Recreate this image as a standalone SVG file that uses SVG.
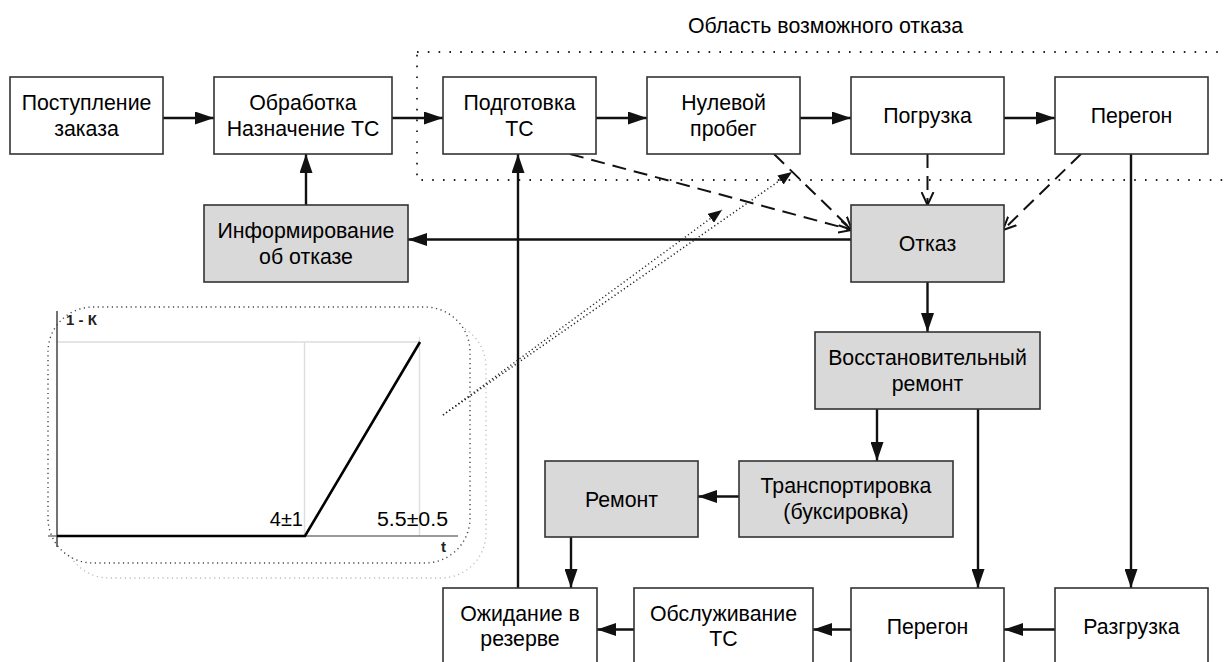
<svg xmlns="http://www.w3.org/2000/svg" width="1224" height="662" viewBox="0 0 1224 662">
<style>
.box{fill:#fff;stroke:#333;stroke-width:1.6}
.gbox{fill:#d9d9d9;stroke:#333;stroke-width:1.6}
.t{font-family:"Liberation Sans",Arial,sans-serif;font-size:21.3px;fill:#000;text-anchor:middle}
.c{stroke:#111;stroke-width:2.4;fill:none}
.d{stroke:#111;stroke-width:2;fill:none;stroke-dasharray:14 8}
.dot{stroke:#222;stroke-width:1.5;fill:none;stroke-dasharray:1.2 2.6}
.area{stroke:#222;stroke-width:1.8;fill:none;stroke-dasharray:1.6 9.2}
.grid{stroke:#ddd;stroke-width:1.4}
.sm{font-family:"Liberation Sans",Arial,sans-serif;font-size:15px;font-weight:bold;fill:#222}
</style>
<defs>
<marker id="a" viewBox="0 0 19 13" refX="19" refY="6.5" markerWidth="19" markerHeight="13" markerUnits="userSpaceOnUse" orient="auto"><path d="M0,0L19,6.5L0,13Z" fill="#111"/></marker>
<marker id="o" viewBox="0 0 14 14" refX="13" refY="7" markerWidth="14" markerHeight="14" markerUnits="userSpaceOnUse" orient="auto"><path d="M0,1L13,7L0,13" fill="none" stroke="#111" stroke-width="2"/></marker>
<marker id="s" viewBox="0 0 14 11" refX="14" refY="5.5" markerWidth="14" markerHeight="11" markerUnits="userSpaceOnUse" orient="auto"><path d="M0,0L14,5.5L0,11Z" fill="#111"/></marker>
</defs>

<text class="t" x="825.5" y="33" font-size="21.8">Область возможного отказа</text>
<rect class="area" x="417" y="52" width="830" height="128"/>

<g id="chart">
<rect x="64" y="322" width="422" height="256" rx="45" fill="none" stroke="#bbb" stroke-width="1.3" stroke-dasharray="1.2 3.5"/>
<rect x="48" y="307" width="422" height="256" rx="45" fill="#fff" stroke="#444" stroke-width="1.4" stroke-dasharray="1.2 3.5"/>
<line class="grid" x1="57" y1="342" x2="420" y2="342"/>
<line class="grid" x1="304.5" y1="342" x2="304.5" y2="536"/>
<line class="grid" x1="419.5" y1="337" x2="419.5" y2="536"/>
<line x1="48" y1="536" x2="458" y2="536" stroke="#777" stroke-width="1.5"/>
<line x1="57" y1="311" x2="57" y2="547" stroke="#444" stroke-width="1.5"/>
<polyline points="57,536 305,536 420,342" fill="none" stroke="#000" stroke-width="2.6"/>
<text class="sm" x="66" y="325">1 - К</text>
<text class="sm" x="441" y="552">t</text>
<text x="303" y="526" font-family="'Liberation Sans',Arial,sans-serif" font-size="20" text-anchor="end">4±1</text>
<text x="448" y="526" font-family="'Liberation Sans',Arial,sans-serif" font-size="20" text-anchor="end" textLength="71" lengthAdjust="spacingAndGlyphs">5.5±0.5</text>
</g>

<g id="connectors">
<line class="c" x1="163" y1="118" x2="214" y2="118" marker-end="url(#a)"/>
<line class="c" x1="392" y1="118" x2="443" y2="118" marker-end="url(#a)"/>
<line class="c" x1="596" y1="118" x2="647" y2="118" marker-end="url(#a)"/>
<line class="c" x1="800" y1="118" x2="851" y2="118" marker-end="url(#a)"/>
<line class="c" x1="1004" y1="118" x2="1055" y2="118" marker-end="url(#a)"/>
<line class="c" x1="306" y1="205" x2="306" y2="154" marker-end="url(#a)"/>
<line class="c" x1="851" y1="239.5" x2="408" y2="239.5" marker-end="url(#a)"/>
<line class="c" x1="518" y1="588" x2="518" y2="154" marker-end="url(#a)"/>
<line class="c" x1="927.5" y1="282" x2="927.5" y2="332" marker-end="url(#a)"/>
<line class="c" x1="877" y1="409" x2="877" y2="461" marker-end="url(#a)"/>
<line class="c" x1="978" y1="409" x2="978" y2="588" marker-end="url(#a)"/>
<line class="c" x1="1131" y1="154" x2="1131" y2="588" marker-end="url(#a)"/>
<line class="c" x1="739" y1="496.5" x2="698" y2="496.5" marker-end="url(#a)"/>
<line class="c" x1="571" y1="537" x2="571" y2="588" marker-end="url(#a)"/>
<line class="c" x1="1055" y1="629.5" x2="1004" y2="629.5" marker-end="url(#a)"/>
<line class="c" x1="851" y1="629.5" x2="813" y2="629.5" marker-end="url(#a)"/>
<line class="c" x1="634" y1="629.5" x2="597" y2="629.5" marker-end="url(#a)"/>
<line class="d" x1="570" y1="154" x2="852" y2="230" marker-end="url(#o)"/>
<line class="d" x1="774" y1="154" x2="852" y2="230" marker-end="url(#o)"/>
<line class="d" x1="927.5" y1="154" x2="927.5" y2="205" marker-end="url(#o)"/>
<line class="d" x1="1081" y1="154" x2="1003" y2="230" marker-end="url(#o)"/>
<line class="dot" x1="443" y1="415" x2="722" y2="210" marker-end="url(#s)"/>
<line class="dot" x1="443" y1="415" x2="792" y2="172" marker-end="url(#s)"/>
</g>

<g id="n1"><rect class="box" x="10" y="77" width="153" height="77"/><text class="t" x="86.5" y="109.5">Поступление</text><text class="t" x="86.5" y="135.5">заказа</text></g>
<g id="n2"><rect class="box" x="214" y="77" width="178" height="77"/><text class="t" x="303" y="109.5">Обработка</text><text class="t" x="303" y="135.5">Назначение ТС</text></g>
<g id="n3"><rect class="box" x="443" y="77" width="153" height="77"/><text class="t" x="519.5" y="109.5">Подготовка</text><text class="t" x="519.5" y="135.5">ТС</text></g>
<g id="n4"><rect class="box" x="647" y="77" width="153" height="77"/><text class="t" x="723.5" y="109.5">Нулевой</text><text class="t" x="723.5" y="135.5">пробег</text></g>
<g id="n5"><rect class="box" x="851" y="77" width="153" height="77"/><text class="t" x="927.5" y="123">Погрузка</text></g>
<g id="n6"><rect class="box" x="1055" y="77" width="153" height="77"/><text class="t" x="1131.5" y="123">Перегон</text></g>
<g id="n7"><rect class="gbox" x="204" y="205" width="204" height="77"/><text class="t" x="306" y="237.5">Информирование</text><text class="t" x="306" y="263.5">об отказе</text></g>
<g id="n8"><rect class="gbox" x="851" y="205" width="153" height="77"/><text class="t" x="927.5" y="251">Отказ</text></g>
<g id="n9"><rect class="gbox" x="815" y="332" width="225" height="77"/><text class="t" x="927.5" y="364.5">Восстановительный</text><text class="t" x="927.5" y="390.5">ремонт</text></g>
<g id="n10"><rect class="gbox" x="739" y="461" width="214" height="76"/><text class="t" x="846" y="493">Транспортировка</text><text class="t" x="846" y="519">(буксировка)</text></g>
<g id="n11"><rect class="gbox" x="545" y="461" width="153" height="76"/><text class="t" x="621.5" y="506.5">Ремонт</text></g>
<g id="n12"><rect class="box" x="443" y="588" width="154" height="80"/><text class="t" x="520" y="620.5">Ожидание в</text><text class="t" x="520" y="646">резерве</text></g>
<g id="n13"><rect class="box" x="634" y="588" width="179" height="80"/><text class="t" x="723.5" y="620.5">Обслуживание</text><text class="t" x="723.5" y="646">ТС</text></g>
<g id="n14"><rect class="box" x="851" y="588" width="153" height="80"/><text class="t" x="927.5" y="634">Перегон</text></g>
<g id="n15"><rect class="box" x="1055" y="588" width="153" height="80"/><text class="t" x="1131.5" y="634">Разгрузка</text></g>
</svg>
